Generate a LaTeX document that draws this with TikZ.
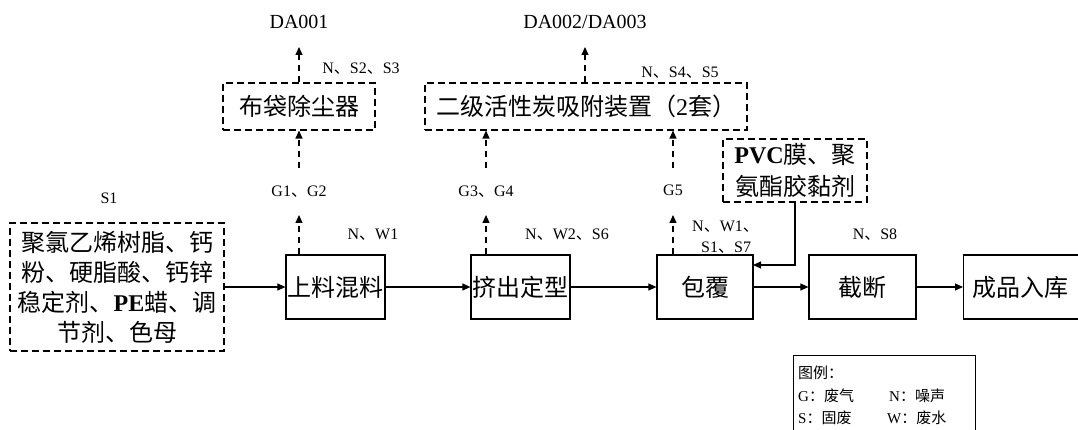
\documentclass[tikz,border=0pt]{standalone}
\usepackage{fontspec}
\setmainfont{Liberation Serif}
\newfontfamily\cjk{Noto Sans CJK SC}
\usetikzlibrary{arrows.meta}
\newcommand\zh[1]{{\cjk #1}}
\begin{document}
\begin{tikzpicture}[x=1pt,y=-1pt,
  proc/.style={draw,line width=1.2pt,inner sep=0pt,font=\fontsize{24}{30}\selectfont\cjk},
  dbox/.style={draw,dash pattern=on 7pt off 4pt,line width=1.1pt,inner sep=0pt,align=center},
  lbl/.style={font=\fontsize{16}{20}\selectfont,inner sep=0pt},
  big/.style={font=\fontsize{20}{24}\selectfont,inner sep=0pt},
  leg/.style={font=\fontsize{15}{18}\selectfont,inner sep=0pt,anchor=west},
  flow/.style={line width=1.1pt,-{Triangle[length=8pt,width=7pt]}},
  dflow/.style={line width=1.1pt,dash pattern=on 6pt off 5pt,-{Triangle[length=8pt,width=7pt]}},
]
\clip (0,0) rectangle (1078,430);

% process boxes
\node[dbox,minimum width=214pt,minimum height=128pt,font=\fontsize{24}{30}\selectfont\cjk] (mat) at (117,287)
  {聚氯乙烯树脂、钙\\粉、硬脂酸、钙锌\\稳定剂、{\rmfamily\bfseries PE}蜡、调\\节剂、色母};
\node[proc,minimum width=99pt,minimum height=64pt] (p1) at (335.5,287) {上料混料};
\node[proc,minimum width=99pt,minimum height=64pt] (p2) at (520.5,287) {挤出定型};
\node[proc,minimum width=96pt,minimum height=64pt] (p3) at (705,287) {包覆};
\node[proc,minimum width=107pt,minimum height=64pt] (p4) at (862.5,287) {截断};
\node[proc,anchor=west,minimum height=64pt,text width=112pt,inner xsep=9pt,align=left] (p5) at (963,287) {成品入库};

% treatment boxes
\node[dbox,minimum width=152pt,minimum height=47pt,font=\fontsize{24}{30}\selectfont\cjk] (dust) at (299,106.5) {布袋除尘器};
\node[dbox,minimum width=322pt,minimum height=47pt,font=\fontsize{24}{30}\selectfont\cjk] (carb) at (586,106.5) {二级活性炭吸附装置（{\rmfamily 2}套）};
\node[dbox,minimum width=144pt,minimum height=63pt,font=\fontsize{24}{32}\selectfont\cjk] (pvc) at (795,170.5)
  {{\rmfamily\bfseries PVC}膜、聚\\氨酯胶黏剂};

% labels
\node[big] (da1) at (299,22) {DA001};
\node[big] (da2) at (585,22) {DA002/DA003};
\node[lbl] (ns23) at (361,69) {N\zh{、}S2\zh{、}S3};
\node[lbl] (ns45) at (680,73) {N\zh{、}S4\zh{、}S5};
\node[lbl] (s1) at (109,198) {S1};
\node[lbl] (g12) at (299,192) {G1\zh{、}G2};
\node[lbl] (g34) at (486,192) {G3\zh{、}G4};
\node[lbl] (g5) at (673,190) {G5};
\node[lbl] (nw1) at (373,235) {N\zh{、}W1};
\node[lbl] (nw2) at (567,235) {N\zh{、}W2\zh{、}S6};
\node[lbl,anchor=west] (nw3) at (692,227) {N\zh{、}W1\zh{、}};
\node[lbl,anchor=west] (s17) at (701,248) {S1\zh{、}S7};
\node[lbl] (ns8) at (875,235) {N\zh{、}S8};

% free ends
\coordinate (t1) at (299,47);
\coordinate (t2) at (585,47);
\coordinate (a1) at (299,215);
\coordinate (a2) at (486,215);
\coordinate (a3) at (673,215);
\coordinate (b1) at (299,168);
\coordinate (b2) at (486,168);
\coordinate (b3) at (673,168);
\coordinate (pin) at (753,265);

% main flow
\draw[flow] (mat.east) -- (p1.west);
\draw[flow] (p1.east) -- (p2.west);
\draw[flow] (p2.east) -- (p3.west);
\draw[flow] (p3.east) -- (p4.west);
\draw[flow] (p4.east) -- (p5.west);
\draw[flow] (pvc.south) |- (pin);

% gas arrows
\draw[dflow] (a1 |- p1.north) -- (a1);
\draw[dflow] (a2 |- p2.north) -- (a2);
\draw[dflow] (a3 |- p3.north) -- (a3);
\draw[dflow] (b1) -- (b1 |- dust.south);
\draw[dflow] (b2) -- (b2 |- carb.south);
\draw[dflow] (b3) -- (b3 |- carb.south);
\draw[dflow] (t1 |- dust.north) -- (t1);
\draw[dflow] (t2 |- carb.north) -- (t2);

% legend
\node[draw,line width=1pt,anchor=north west,minimum width=182pt,minimum height=90pt,inner sep=0pt] (legend) at (793,355) {};
\node[leg] (l0) at (798,373) {\zh{图例：}};
\node[leg] (l1) at (798,396) {G\zh{：废气}};
\node[leg] (l2) at (889,396) {N\zh{：噪声}};
\node[leg] (l3) at (798,418) {S\zh{：固废}};
\node[leg] (l4) at (887,418) {W\zh{：废水}};
\end{tikzpicture}
\end{document}
